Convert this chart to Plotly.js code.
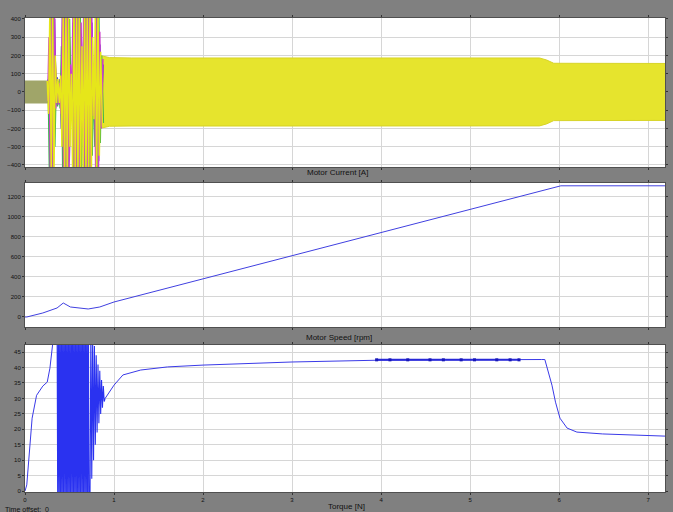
<!DOCTYPE html>
<html>
<head>
<meta charset="utf-8">
<script src="https://cdn.plot.ly/plotly-3.0.1.min.js"></script>
<style>html,body{margin:0;padding:0;background:#808080;}#chart{width:673px;height:512px;}</style>
</head>
<body>
<div id="chart"></div>
<script>
// ---- Panel 1: Motor Current [A] ----
const tSmallBand = [0, 0.25, 0.5, 0.86];
const smallBandUpper = [63, 63, 63, 63];
const smallBandLower = [-63, -63, -63, -63];

const tMainBand = [0.84, 0.95, 1.2, 3.0, 5.78, 5.86, 5.94, 7.19];
const mainBandUpper = [200, 188, 186, 186, 186, 175, 157, 156];
const mainBandLower = [-200, -188, -186, -186, -186, -175, -157, -156];

const tPhaseY = [0.25,0.265,0.28,0.295,0.31,0.325,0.34,0.355,0.37,0.385,0.40,0.415,0.43,0.445,0.46,0.475,0.49,0.505,0.52,0.535,0.55,0.565,0.58,0.595,0.61,0.625,0.64,0.655,0.67,0.685,0.70,0.715,0.73,0.745,0.76,0.775,0.79,0.805,0.82,0.835,0.85,0.87];
const iPhaseY = [60,-120,480,-480,480,-470,200,-60,70,-60,90,-300,480,-480,480,-480,480,-300,100,-420,480,-480,480,-480,480,-480,250,-420,480,-480,480,-480,480,-480,300,-150,420,-460,460,-350,220,-190];

const tPhaseM = [0.255,0.27,0.285,0.30,0.315,0.33,0.345,0.36,0.375,0.39,0.405,0.42,0.435,0.45,0.465,0.48,0.495,0.51,0.525,0.54,0.555,0.57,0.585,0.60,0.615,0.63,0.645,0.66,0.675,0.69,0.705,0.72,0.735,0.75,0.765,0.78,0.795,0.81,0.825,0.84,0.855,0.875];
const iPhaseM = [-50,300,-480,480,-480,480,-90,60,-70,50,-120,420,-480,480,-480,480,-450,150,-90,470,-480,480,-480,480,-480,380,-200,470,-480,480,-480,480,-480,420,-130,160,-450,470,-430,330,-200,180];

const tPhaseG = [0.26,0.275,0.29,0.305,0.32,0.335,0.35,0.365,0.38,0.395,0.41,0.425,0.44,0.455,0.47,0.485,0.50,0.515,0.53,0.545,0.56,0.575,0.59,0.605,0.62,0.635,0.65,0.665,0.68,0.695,0.71,0.725,0.74,0.755,0.77,0.785,0.80,0.815,0.83,0.845,0.86,0.88];
const iPhaseG = [70,-450,470,-480,480,-300,50,-80,60,-90,250,-480,480,-480,480,-480,400,-120,80,-480,480,-480,480,-480,480,-480,150,-470,480,-480,480,-480,480,-350,110,-300,470,-460,410,-280,200,-170];

const tPhaseB = [0.2575,0.2725,0.2875,0.3025,0.3175,0.3325,0.3475,0.3625,0.3775,0.3925,0.4075,0.4225,0.4375,0.4525,0.4675,0.4825,0.4975,0.5125,0.5275,0.5425,0.5575,0.5725,0.5875,0.6025,0.6175,0.6325,0.6475,0.6625,0.6775,0.6925,0.7075,0.7225,0.7375,0.7525,0.7675,0.7825,0.7975,0.8125,0.8275,0.8425,0.8575,0.8775];
const iPhaseB = [-60,200,-430,450,-470,400,-40,80,-50,70,-200,460,-420,470,-450,440,-380,90,-60,380,-460,470,-440,460,-470,300,-100,350,-460,470,-440,450,-470,380,-90,130,-400,440,-380,260,-160,150];

const tPhaseO = [0.28,0.30,0.32,0.36,0.40,0.44,0.46,0.48,0.50,0.52,0.56,0.58,0.60,0.62,0.645,0.67,0.69,0.71,0.73,0.775,0.80,0.82,0.84];
const iPhaseO = [300,-350,320,10,-10,-380,360,-340,300,0,-360,380,-350,330,0,-300,350,-370,320,0,-330,300,-250];

// ---- Panel 2: Motor Speed [rpm] ----
const tSpeed = [0, 0.02, 0.2, 0.36, 0.43, 0.51, 0.71, 0.84, 1.0, 2.0, 3.0, 4.0, 5.0, 5.95, 6.02, 7.19];
const speed = [0, 0, 40, 90, 140, 100, 80, 100, 150, 383, 616, 849, 1082, 1300, 1312, 1312];

// ---- Panel 3: Torque [N] ----
const tTorqueRise = [0, 0.02, 0.08, 0.13, 0.2, 0.25, 0.28, 0.31, 0.34, 0.36];
const torqueRise = [0, 2, 23.6, 31, 34, 35.3, 39.8, 47.5, 55, 60];
const tTorqueOsc = [0.36,0.368,0.376,0.384,0.392,0.40,0.408,0.416,0.424,0.432,0.44,0.448,0.456,0.464,0.472,0.48,0.488,0.496,0.504,0.512,0.52,0.528,0.536,0.544,0.552,0.56,0.568,0.576,0.584,0.592,0.60,0.608,0.616,0.624,0.632,0.64,0.648,0.656,0.664,0.672,0.68,0.688,0.696,0.704,0.712,0.72,
  0.73,0.74,0.75,0.76,0.77,0.78,0.79,0.80,0.81,0.82,0.83,0.84,0.85,0.86,0.87,0.88,0.89,0.9];
const torqueOsc = [60,-10,60,-10,60,-10,60,-10,60,-10,60,-10,60,-10,60,-10,60,-10,60,-10,60,-10,60,-10,60,-10,60,-10,60,-10,60,-10,60,-10,60,-10,60,-10,60,-10,60,-10,60,-10,60,-10,
  -5,52,4,49,10,47,15,44,19,41,22,39,25,36,27,34,29,30];
const tTorqueSettle = [0.9, 0.95, 1.0, 1.1, 1.3, 1.6, 2.0, 3.0, 4.0, 5.8, 5.84, 5.92, 5.96, 6.01, 6.09, 6.2, 6.49, 7.19];
const torqueSettle = [30, 32, 34.3, 37.6, 39.2, 40.2, 40.8, 41.8, 42.4, 42.6, 42.6, 34.3, 28.8, 23.6, 20.4, 19.1, 18.5, 17.8];
const tTorqueNoise = [3.95, 4.1, 4.3, 4.55, 4.7, 4.9, 5.05, 5.3, 5.45, 5.55];
const torqueNoise = [42.5, 42.5, 42.5, 42.5, 42.5, 42.5, 42.5, 42.5, 42.5, 42.5];

// tick labels
const currentTicks = [-400, -300, -200, -100, 0, 100, 200, 300, 400];
const speedTicks = [0, 200, 400, 600, 800, 1000, 1200];
const torqueTicks = [0, 5, 10, 15, 20, 25, 30, 35, 40, 45];
const timeTicks = [0, 1, 2, 3, 4, 5, 6, 7];

function band(t, up, lo, color, xa, ya) {
  return {x: t.concat(t.slice().reverse()), y: up.concat(lo.slice().reverse()),
    type: 'scatter', mode: 'lines', fill: 'toself', fillcolor: color,
    line: {width: 0}, xaxis: xa, yaxis: ya, hoverinfo: 'skip'};
}
function line(t, v, color, w, xa, ya) {
  return {x: t, y: v, type: 'scatter', mode: 'lines', line: {color: color, width: w}, xaxis: xa, yaxis: ya};
}

const traces = [
  band(tSmallBand, smallBandUpper, smallBandLower, 'rgb(160,165,105)', 'x3', 'y3'),
  band(tMainBand, mainBandUpper, mainBandLower, 'rgb(230,228,45)', 'x3', 'y3'),
  line(tMainBand, mainBandUpper, 'rgb(215,212,40)', 1, 'x3', 'y3'),
  line(tMainBand, mainBandLower, 'rgb(215,212,40)', 1, 'x3', 'y3'),
  line(tPhaseO, iPhaseO, '#e8822a', 1.5, 'x3', 'y3'),
  line(tPhaseB, iPhaseB, '#5546c8', 1.5, 'x3', 'y3'),
  line(tPhaseG, iPhaseG, '#3cb44c', 1.5, 'x3', 'y3'),
  line(tPhaseM, iPhaseM, '#cc3ccc', 1.5, 'x3', 'y3'),
  line(tPhaseY, iPhaseY, '#e6e61a', 1.5, 'x3', 'y3'),
  line(tSpeed, speed, '#4040e0', 1, 'x2', 'y2'),
  line(tTorqueRise, torqueRise, '#3a3ae8', 1, 'x', 'y'),
  line(tTorqueOsc, torqueOsc, '#2a32f0', 1.1, 'x', 'y'),
  line(tTorqueSettle, torqueSettle, '#3a3ae8', 1, 'x', 'y'),
  {x: tTorqueNoise, y: torqueNoise, type: 'scatter', mode: 'lines+markers',
   line: {color: '#2828d8', width: 2}, marker: {color: '#1818b8', size: 3, symbol: 'square'},
   xaxis: 'x', yaxis: 'y'}
];

const axBase = {
  showgrid: true, gridcolor: '#d6d6d6', gridwidth: 1, zeroline: false,
  showline: true, linecolor: '#505050', linewidth: 1, mirror: 'ticks',
  ticks: 'outside', ticklen: 2, tickcolor: '#333',
  tickfont: {family: 'Arial, Liberation Sans, sans-serif', size: 6, color: '#111'}
};
function ax(extra) { return Object.assign({}, axBase, extra); }

const fnt = {family: 'Arial, Liberation Sans, sans-serif', size: 8, color: '#111'};
const layout = {
  width: 673, height: 512,
  margin: {l: 25, r: 8, t: 18, b: 20},
  paper_bgcolor: '#808080', plot_bgcolor: '#ffffff',
  showlegend: false,
  xaxis:  ax({domain: [0, 1], anchor: 'y',  range: [0, 7.19], tickvals: timeTicks, showticklabels: true}),
  xaxis2: ax({domain: [0, 1], anchor: 'y2', range: [0, 7.19], tickvals: timeTicks, showticklabels: false}),
  xaxis3: ax({domain: [0, 1], anchor: 'y3', range: [0, 7.19], tickvals: timeTicks, showticklabels: false}),
  yaxis:  ax({domain: [0, 0.3101], anchor: 'x', range: [-0.3, 47.3], tickvals: torqueTicks}),
  yaxis2: ax({domain: [0.3481, 0.6519], anchor: 'x2', range: [-100, 1340], tickvals: speedTicks}),
  yaxis3: ax({domain: [0.6857, 1], anchor: 'x3', range: [-411, 405], tickvals: currentTicks}),
  annotations: [
    {text: 'Motor Current [A]', xref: 'paper', yref: 'paper', x: 0.489, y: 0.673, xanchor: 'center', yanchor: 'middle', showarrow: false, font: fnt},
    {text: 'Motor Speed [rpm]', xref: 'paper', yref: 'paper', x: 0.491, y: 0.325, xanchor: 'center', yanchor: 'middle', showarrow: false, font: fnt},
    {text: 'Torque [N]', xref: 'paper', yref: 'paper', x: 0.502, y: -0.0316, xanchor: 'center', yanchor: 'middle', showarrow: false, font: fnt},
    {text: 'Time offset:  0', xref: 'paper', yref: 'paper', x: -0.034, y: -0.036, xanchor: 'left', yanchor: 'middle', showarrow: false,
     font: {family: 'Arial, Liberation Sans, sans-serif', size: 7, color: '#111'}}
  ]
};

Plotly.newPlot('chart', traces, layout, {displayModeBar: false, staticPlot: true});
</script>
</body>
</html>
